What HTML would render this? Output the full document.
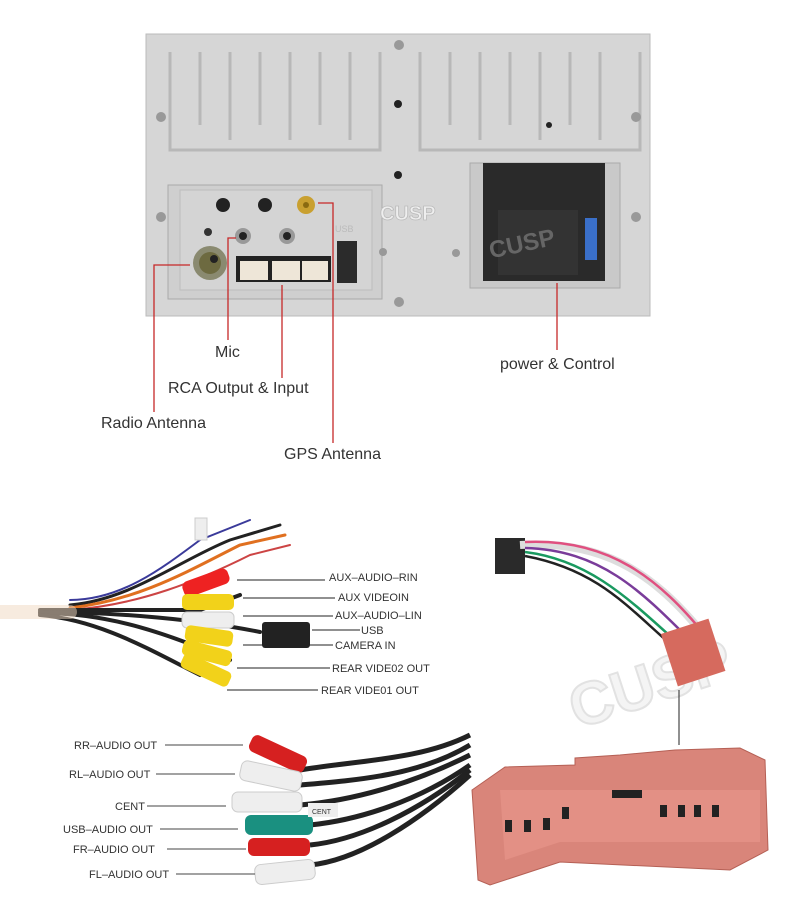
<!DOCTYPE html>
<html><head><meta charset="utf-8"><style>
html,body{margin:0;padding:0;background:#fff;width:800px;height:903px;overflow:hidden}
text{font-family:"Liberation Sans",sans-serif}
</style></head><body>
<svg width="800" height="903" viewBox="0 0 800 903" xmlns="http://www.w3.org/2000/svg">
<!-- head unit -->
<rect x="146" y="34" width="504" height="282" fill="#d6d6d6" stroke="#bbb"/>
<g fill="none" stroke="#b8b8b8" stroke-width="3">
<path d="M170 52 V150 H380 V52 M200 52 V125 M230 52 V140 M260 52 V125 M290 52 V140 M320 52 V125 M350 52 V140"/>
<path d="M420 52 V150 H640 V52 M450 52 V125 M480 52 V140 M510 52 V125 M540 52 V140 M570 52 V125 M600 52 V140"/>
</g>
<rect x="168" y="185" width="214" height="114" fill="#cfcfcf" stroke="#aaa"/>
<rect x="180" y="190" width="192" height="100" fill="#d4d4d4" stroke="#bdbdbd"/>
<rect x="470" y="163" width="150" height="125" fill="#c9c9c9" stroke="#aaa"/>
<rect x="483" y="163" width="122" height="118" fill="#2a2a2a"/>
<rect x="498" y="210" width="80" height="65" fill="#333"/>
<rect x="585" y="218" width="12" height="42" fill="#3a6fc8"/>
<text x="488" y="250" font-size="24" font-weight="bold" fill="#666" transform="rotate(-12 530 240)">CUSP</text>
<text x="380" y="220" font-size="20" font-weight="bold" fill="#eee" stroke="#bbb" stroke-width="0.8">CUSP</text>
<text x="335" y="232" font-size="9" fill="#bbb">USB</text>
<circle cx="398" cy="104" r="4" fill="#222"/><circle cx="398" cy="175" r="4" fill="#222"/><circle cx="549" cy="125" r="3" fill="#222"/>
<circle cx="223" cy="205" r="7" fill="#222"/><circle cx="265" cy="205" r="7" fill="#222"/>
<circle cx="306" cy="205" r="9" fill="#c9a030"/><circle cx="306" cy="205" r="3" fill="#8a6a10"/>
<circle cx="208" cy="232" r="4" fill="#333"/>
<circle cx="210" cy="263" r="17" fill="#8a8a70"/><circle cx="210" cy="263" r="11" fill="#6d6a40"/><circle cx="214" cy="259" r="4" fill="#222"/>
<circle cx="243" cy="236" r="8" fill="#999"/><circle cx="243" cy="236" r="4" fill="#222"/>
<circle cx="287" cy="236" r="8" fill="#999"/><circle cx="287" cy="236" r="4" fill="#222"/>
<rect x="236" y="256" width="95" height="26" fill="#222"/>
<rect x="240" y="261" width="28" height="19" fill="#eee6d8"/><rect x="272" y="261" width="28" height="19" fill="#eee6d8"/><rect x="302" y="261" width="26" height="19" fill="#eee6d8"/>
<rect x="337" y="241" width="20" height="42" fill="#2b2b2b"/>
<g fill="#999"><circle cx="399" cy="45" r="5"/><circle cx="161" cy="117" r="5"/><circle cx="636" cy="117" r="5"/><circle cx="161" cy="217" r="5"/><circle cx="636" cy="217" r="5"/><circle cx="399" cy="302" r="5"/><circle cx="383" cy="252" r="4"/><circle cx="456" cy="253" r="4"/></g>
<!-- callouts -->
<g stroke="#c62828" stroke-width="1.3" fill="none">
<path d="M190 265 H154 V412"/><path d="M236 238 H228 V340"/><path d="M282 285 V378"/><path d="M318 203 H333 V443"/><path d="M557 283 V350"/>
</g>
<g font-size="16" fill="#333">
<text x="215" y="357">Mic</text>
<text x="168" y="393">RCA Output &amp; Input</text>
<text x="101" y="428">Radio Antenna</text>
<text x="284" y="459">GPS Antenna</text>
<text x="500" y="369">power &amp; Control</text>
</g>
<!-- left harness -->
<g fill="none" stroke-linecap="round">
<path d="M70 600 C120 600 160 570 200 540 L250 520" stroke="#3a3a9a" stroke-width="2"/>
<path d="M70 605 C130 600 180 560 230 540 L280 525" stroke="#222" stroke-width="3"/>
<path d="M70 608 C140 600 190 570 240 545 L285 535" stroke="#e07020" stroke-width="3"/>
<path d="M70 610 C140 605 200 580 250 555 L290 545" stroke="#c44" stroke-width="2"/>
<path d="M40 610 H200 L240 595" stroke="#222" stroke-width="4"/>
<path d="M40 613 C120 613 180 640 230 660" stroke="#222" stroke-width="4"/>
<path d="M40 612 C120 612 200 620 260 632" stroke="#222" stroke-width="4"/>
<path d="M40 615 C100 620 150 650 200 675" stroke="#222" stroke-width="4"/>
<path d="M0 612 H70" stroke="#f0d8c0" stroke-width="14" opacity="0.5"/>
</g>
<g>
<rect x="182" y="575" width="48" height="16" rx="6" fill="#e22" transform="rotate(-20 205 583)"/>
<rect x="182" y="594" width="52" height="16" rx="5" fill="#f2d21a"/>
<rect x="182" y="612" width="52" height="16" rx="5" fill="#eee" stroke="#ccc"/>
<rect x="185" y="628" width="48" height="16" rx="5" fill="#f2d21a" transform="rotate(8 209 636)"/>
<rect x="182" y="645" width="50" height="16" rx="5" fill="#f2d21a" transform="rotate(15 207 653)"/>
<rect x="180" y="662" width="52" height="16" rx="5" fill="#f2d21a" transform="rotate(25 206 670)"/>
<rect x="262" y="622" width="48" height="26" rx="3" fill="#222"/>
<rect x="195" y="518" width="12" height="22" fill="#eee" stroke="#ccc"/>
</g>
<g stroke="#222" stroke-width="1">
<path d="M237 580 H325"/><path d="M243 598 H335"/><path d="M243 616 H333"/><path d="M312 630 H360"/><path d="M243 645 H333"/><path d="M237 668 H330"/><path d="M227 690 H318"/>
</g>
<g font-size="11" fill="#333">
<text x="329" y="581">AUX–AUDIO–RIN</text>
<text x="338" y="601">AUX VIDEOIN</text>
<text x="335" y="619">AUX–AUDIO–LIN</text>
<text x="361" y="634">USB</text>
<text x="335" y="649">CAMERA IN</text>
<text x="332" y="672">REAR VIDE02 OUT</text>
<text x="321" y="694">REAR VIDE01 OUT</text>
</g>
<!-- lower RCA outs -->
<g fill="none" stroke="#222" stroke-width="5">
<path d="M300 770 C360 760 420 760 470 735"/><path d="M300 785 C360 780 420 775 470 745"/><path d="M300 805 C360 800 420 780 470 755"/><path d="M310 825 C360 820 420 800 470 765"/><path d="M310 845 C360 840 420 810 470 770"/><path d="M310 865 C360 860 420 820 470 775"/>
</g>
<g>
<rect x="248" y="745" width="60" height="18" rx="6" fill="#d62020" transform="rotate(25 278 754)"/>
<rect x="240" y="766" width="62" height="20" rx="6" fill="#eee" stroke="#ccc" transform="rotate(12 271 776)"/>
<rect x="232" y="792" width="70" height="20" rx="6" fill="#eee" stroke="#ccc"/>
<rect x="245" y="815" width="68" height="20" rx="6" fill="#1a9080"/>
<rect x="248" y="838" width="62" height="18" rx="6" fill="#d62020"/>
<rect x="255" y="862" width="60" height="20" rx="6" fill="#eee" stroke="#ccc" transform="rotate(-6 285 872)"/>
<rect x="308" y="803" width="30" height="14" fill="#eee"/>
<text x="312" y="814" font-size="7" fill="#333">CENT</text>
</g>
<g stroke="#444" stroke-width="1">
<path d="M165 745 H243"/><path d="M156 774 H235"/><path d="M147 806 H226"/><path d="M160 829 H238"/><path d="M167 849 H246"/><path d="M176 874 H255"/>
</g>
<g font-size="11" fill="#333">
<text x="74" y="749">RR–AUDIO OUT</text>
<text x="69" y="778">RL–AUDIO OUT</text>
<text x="115" y="810">CENT</text>
<text x="63" y="833">USB–AUDIO OUT</text>
<text x="73" y="853">FR–AUDIO OUT</text>
<text x="89" y="878">FL–AUDIO OUT</text>
</g>
<!-- right harness -->
<text x="560" y="700" font-size="60" font-weight="bold" fill="#f4f4f4" stroke="#e2e2e2" stroke-width="2" transform="rotate(-18 660 660)">CUSP</text>
<rect x="495" y="538" width="30" height="36" fill="#2a2a2a"/>
<g fill="none" stroke-width="2.5">
<path d="M520 545 C600 540 650 570 700 630" stroke="#ddd" stroke-width="8"/>
<path d="M525 548 C600 550 640 590 690 640" stroke="#7a3c9a"/>
<path d="M525 552 C590 560 630 600 680 645" stroke="#1a9a60"/>
<path d="M525 542 C610 538 660 580 705 635" stroke="#e05080"/>
<path d="M525 556 C600 570 630 610 675 648" stroke="#222"/>
</g>
<rect x="668" y="625" width="50" height="55" fill="#d66a5e" transform="rotate(-18 693 652)"/>
<path d="M679 690 V745" stroke="#222" stroke-width="1"/>
<path d="M472 790 L505 767 L575 765 L575 758 L620 755 L675 750 L740 748 L765 760 L768 850 L730 870 L560 862 L490 885 L478 880 Z" fill="#d9857a" stroke="#b56055"/>
<path d="M500 790 H760 V842 L560 842 L505 860 Z" fill="#e39085"/>
<g fill="#222"><rect x="505" y="820" width="7" height="12"/><rect x="524" y="820" width="7" height="12"/><rect x="543" y="818" width="7" height="12"/><rect x="562" y="807" width="7" height="12"/><rect x="660" y="805" width="7" height="12"/><rect x="678" y="805" width="7" height="12"/><rect x="694" y="805" width="7" height="12"/><rect x="712" y="805" width="7" height="12"/><rect x="612" y="790" width="30" height="8"/></g>
</svg>
</body></html>
